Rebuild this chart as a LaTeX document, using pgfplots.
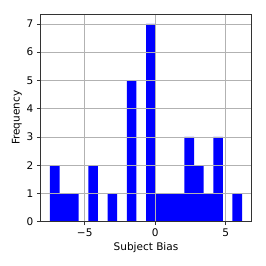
\documentclass[border=0pt]{standalone}
\usepackage{fontspec}
\setmainfont{DejaVu Sans}
\usepackage{pgfplots}
\pgfplotsset{compat=1.18}
\begin{document}
\begin{tikzpicture}[x=1pt,y=1pt]
\begin{axis}[name=ax, at={(0,0)}, anchor=south west,
  scale only axis, width=211.4pt, height=207.7pt,
  xmin=-8.152, xmax=6.852, ymin=0, ymax=7.35,
  xtick={-5,0,5}, xticklabels={−5,0,5},
  ytick={0,1,2,3,4,5,6,7},
  /pgf/number format/assume math mode=true,
  tick label style={font=\fontsize{10.5}{12}\selectfont},
  label style={font=\fontsize{10.5}{12}\selectfont},
  xlabel={Subject Bias}, ylabel={Frequency},
  tick align=outside, major tick length=3.5pt,
  tick style={black!80, line width=0.6pt},
  xtick pos=bottom, ytick pos=left,
  axis line style={black!80, line width=0.7pt},
  grid=major, grid style={color=black!30, line width=0.6pt},
  axis on top,
  xlabel style={yshift=1pt}, ylabel style={yshift=-2pt},
]
\addplot[ybar interval, fill=blue, draw=none] coordinates {
(-7.470,2) (-6.788,1) (-6.106,1) (-5.424,0) (-4.742,2) (-4.060,0)
(-3.378,1) (-2.696,0) (-2.014,5) (-1.332,0) (-0.650,7) (0.032,1)
(0.714,1) (1.396,1) (2.078,3) (2.760,2) (3.442,1) (4.124,3)
(4.806,0) (5.488,1) (6.170,1)
};
\end{axis}
\pgfresetboundingbox
\path[use as bounding box] (-40.3pt,-44.3pt) rectangle (225.7pt,221.7pt);
\end{tikzpicture}
\end{document}
